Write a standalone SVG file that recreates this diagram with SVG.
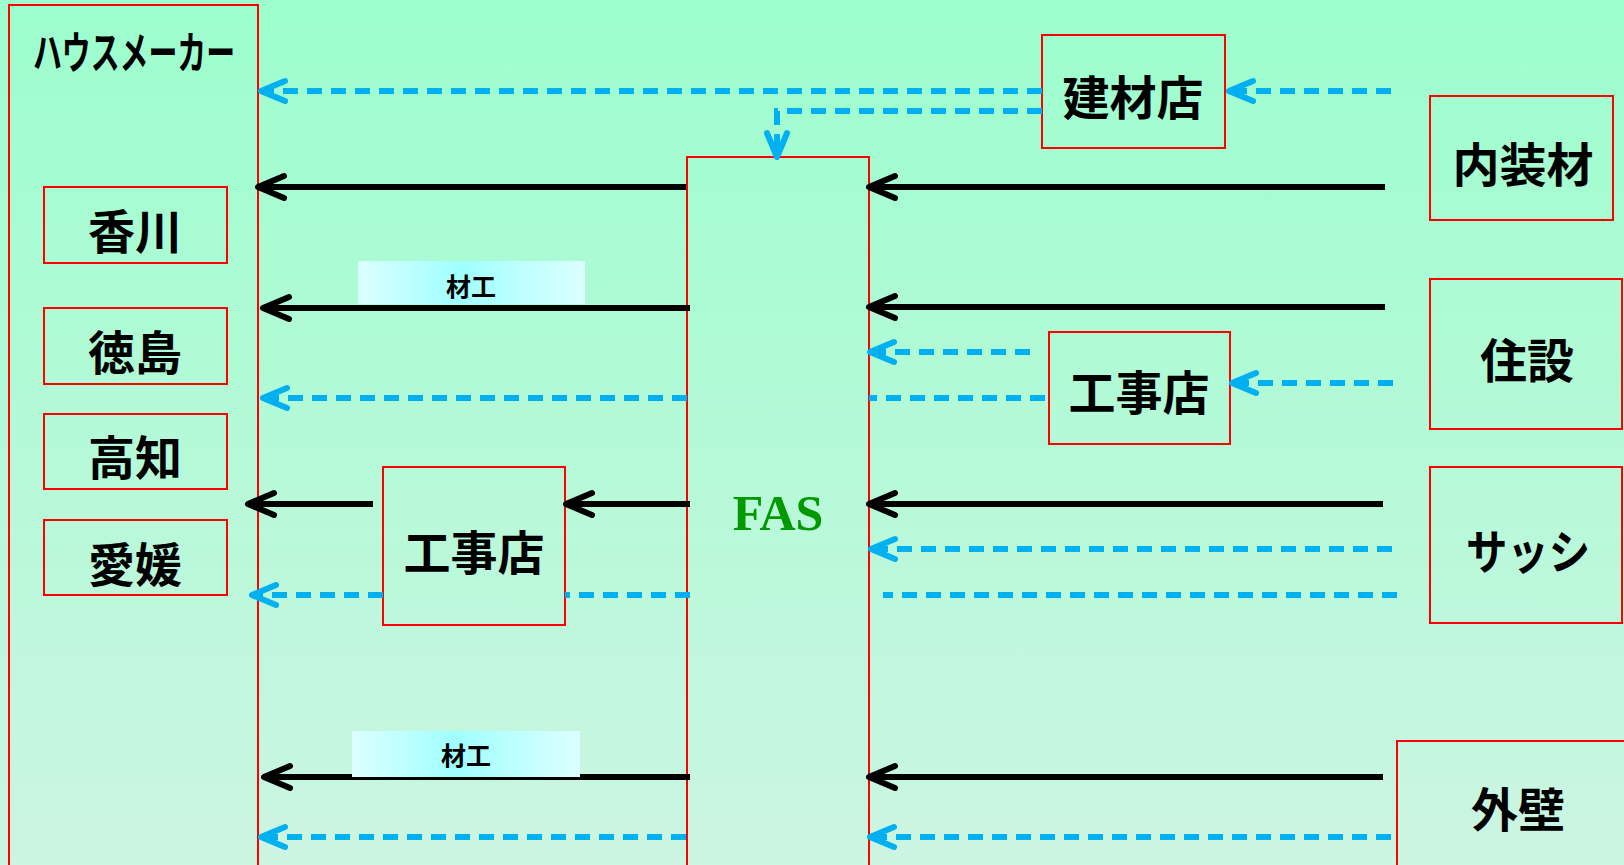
<svg xmlns="http://www.w3.org/2000/svg" width="1624" height="865" viewBox="0 0 1624 865">
<defs>
<linearGradient id="bg" x1="0" y1="0" x2="0" y2="1">
<stop offset="0" stop-color="#9cfecd"/>
<stop offset="1" stop-color="#ccf5e2"/>
</linearGradient>
<linearGradient id="lbl" x1="0" y1="0" x2="1" y2="0">
<stop offset="0" stop-color="#dcffff"/>
<stop offset="0.45" stop-color="#a0ffff"/>
<stop offset="1" stop-color="#dcffff"/>
</linearGradient>
<marker id="ak" markerUnits="userSpaceOnUse" markerWidth="34" markerHeight="30" viewBox="-30 -15 34 30" refX="0" refY="0" orient="auto" overflow="visible">
<path d="M-26,-11 L0,0 L-26,11" fill="none" stroke="#000" stroke-width="6" stroke-linecap="round" stroke-linejoin="round"/>
</marker>
<marker id="ab" markerUnits="userSpaceOnUse" markerWidth="34" markerHeight="30" viewBox="-30 -15 34 30" refX="0" refY="0" orient="auto" overflow="visible">
<path d="M-24,-10 L0,0 L-24,10" fill="none" stroke="#00b0f0" stroke-width="6" stroke-linecap="round" stroke-linejoin="round"/>
</marker>
<style>
.box{fill:none;stroke:#ff0000;stroke-width:2}
.t{font-family:"Noto Sans CJK JP","Noto Sans CJK SC",sans-serif;font-weight:bold;font-size:47px;fill:#000;text-anchor:middle;dominant-baseline:central}
.lt{font-family:"Noto Sans CJK JP","Noto Sans CJK SC",sans-serif;font-weight:bold;font-size:25px;fill:#000;text-anchor:middle;dominant-baseline:central}
.k{fill:none;stroke:#000;stroke-width:6;marker-end:url(#ak)}
.b{fill:none;stroke:#00b0f0;stroke-width:6;stroke-dasharray:15 9;marker-end:url(#ab)}
.bn{fill:none;stroke:#00b0f0;stroke-width:6;stroke-dasharray:15 9}
</style>
</defs>
<rect x="0" y="0" width="1624" height="865" fill="url(#bg)"/>

<g id="housemaker">
<rect class="box" x="9" y="5" width="249" height="880"/>
<text x="33" y="50" font-family="'Noto Sans CJK JP','Noto Sans CJK SC',sans-serif" font-weight="bold" font-size="44" dominant-baseline="central" textLength="202" lengthAdjust="spacingAndGlyphs">ハウスメーカー</text>
</g>
<g id="kagawa"><rect class="box" x="44" y="187" width="183" height="76"/><text class="t" x="135" y="228">香川</text></g>
<g id="tokushima"><rect class="box" x="44" y="308" width="183" height="76"/><text class="t" x="135" y="349">徳島</text></g>
<g id="kochi"><rect class="box" x="44" y="414" width="183" height="75"/><text class="t" x="135" y="454">高知</text></g>
<g id="ehime"><rect class="box" x="44" y="520" width="183" height="75"/><text class="t" x="135" y="561">愛媛</text></g>

<g id="kenzaiten"><rect class="box" x="1042" y="35" width="183" height="113"/><text class="t" x="1133" y="94">建材店</text></g>
<g id="naisouzai"><rect class="box" x="1430" y="96" width="183" height="124"/><text class="t" x="1523" y="161">内装材</text></g>
<g id="jusetsu"><rect class="box" x="1430" y="279" width="192" height="150"/><text class="t" x="1527" y="357">住設</text></g>
<g id="sash"><rect class="box" x="1430" y="467" width="192" height="156"/><text class="t" x="1466" y="548" style="text-anchor:start" font-size="49" textLength="124" lengthAdjust="spacingAndGlyphs">サッシ</text></g>
<g id="gaiheki"><rect class="box" x="1397" y="741" width="260" height="160"/><text class="t" x="1518" y="806">外壁</text></g>
<g id="koujiten-r"><rect class="box" x="1049" y="332" width="181" height="112"/><text class="t" x="1139" y="389">工事店</text></g>
<g id="koujiten-l"><rect class="box" x="383" y="467" width="182" height="158"/><text class="t" x="474" y="549">工事店</text></g>
<g id="fas"><rect class="box" x="687" y="157" width="182" height="740"/><text x="778" y="530" font-family="'Liberation Serif',serif" font-weight="bold" font-size="50" fill="#009900" text-anchor="middle">FAS</text></g>

<g id="connectors">
<path class="b" d="M1391,91 H1229"/>
<path class="b" d="M1042,91 H261"/>
<path class="b" d="M1042,111 H777 V157"/>
<path class="k" d="M1385,187 H869"/>
<path class="k" d="M686,187 H258"/>
<path class="k" d="M1385,307 H869"/>
<path class="k" d="M690,308 H263"/>
<path class="b" d="M1030,352 H870"/>
<path class="b" d="M1393,383 H1232"/>
<path class="bn" d="M1045,398 H869"/>
<path class="b" d="M687,398 H263"/>
<path class="k" d="M1383,504 H869"/>
<path class="k" d="M690,504 H566"/>
<path class="k" d="M373,504 H248"/>
<path class="b" d="M1392,549 H871"/>
<path class="bn" d="M1397,595 H883"/>
<path class="bn" d="M690,595 H565"/>
<path class="b" d="M383,595 H252"/>
<path class="k" d="M1383,777 H869"/>
<path class="k" d="M690,777 H264"/>
<path class="b" d="M1391,837 H870"/>
<path class="b" d="M686,837 H261"/>
</g>

<g id="label-1"><rect x="358" y="261" width="227" height="43" fill="url(#lbl)"/><text class="lt" x="471" y="285">材工</text></g>
<g id="label-2"><rect x="352" y="731" width="228" height="46" fill="url(#lbl)"/><text class="lt" x="466" y="754">材工</text></g>
</svg>
